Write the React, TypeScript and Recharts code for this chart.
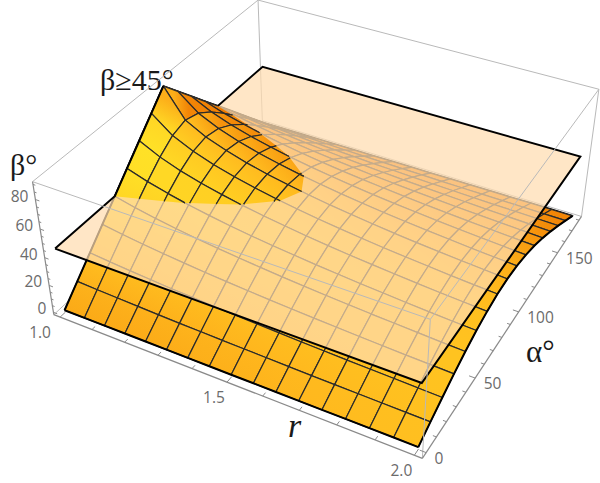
import { ScatterChart, Scatter, XAxis, YAxis } from "recharts";

const rValues = [1, 1.0625, 1.125, 1.1875, 1.25, 1.3125, 1.375, 1.4375, 1.5, 1.5625, 1.625, 1.6875, 1.75, 1.8125, 1.875, 1.9375, 2];
const alphaValues = [0, 11.25, 22.5, 33.75, 45, 56.25, 67.5, 78.75, 90, 101.25, 112.5, 123.75, 135, 146.25, 157.5, 168.75, 180];
const betaRows = [
  [0, 11.25, 22.5, 33.75, 45, 56.25, 67.5, 78.75, 90, 78.75, 67.5, 56.25, 45, 33.75, 22.5, 11.25, 0],
  [0, 10.6, 21.1, 31.5, 41.7, 51.5, 60.4, 67.4, 70.3, 67.4, 60.4, 51.5, 41.7, 31.5, 21.1, 10.6, 0],
  [0, 10.0, 19.9, 29.6, 38.9, 47.7, 55.2, 60.7, 62.7, 60.7, 55.2, 47.7, 38.9, 29.6, 19.9, 10.0, 0],
  [0, 9.5, 18.8, 27.9, 36.5, 44.4, 51.1, 55.7, 57.4, 55.7, 51.1, 44.4, 36.5, 27.9, 18.8, 9.5, 0],
  [0, 9.0, 17.8, 26.4, 34.4, 41.7, 47.7, 51.7, 53.1, 51.7, 47.7, 41.7, 34.4, 26.4, 17.8, 9.0, 0],
  [0, 8.5, 17.0, 25.0, 32.6, 39.3, 44.7, 48.4, 49.6, 48.4, 44.7, 39.3, 32.6, 25.0, 17.0, 8.5, 0],
  [0, 8.2, 16.2, 23.8, 31.0, 37.2, 42.2, 45.5, 46.7, 45.5, 42.2, 37.2, 31.0, 23.8, 16.2, 8.2, 0],
  [0, 7.8, 15.4, 22.7, 29.5, 35.3, 40.0, 43.0, 44.1, 43.0, 40.0, 35.3, 29.5, 22.7, 15.4, 7.8, 0],
  [0, 7.5, 14.8, 21.7, 28.1, 33.7, 38.0, 40.8, 41.8, 40.8, 38.0, 33.7, 28.1, 21.7, 14.8, 7.5, 0],
  [0, 7.2, 14.2, 20.8, 26.9, 32.2, 36.2, 38.9, 39.8, 38.9, 36.2, 32.2, 26.9, 20.8, 14.2, 7.2, 0],
  [0, 6.9, 13.6, 20.0, 25.8, 30.8, 34.6, 37.1, 38.0, 37.1, 34.6, 30.8, 25.8, 20.0, 13.6, 6.9, 0],
  [0, 6.6, 13.1, 19.2, 24.8, 29.5, 33.2, 35.5, 36.3, 35.5, 33.2, 29.5, 24.8, 19.2, 13.1, 6.6, 0],
  [0, 6.4, 12.6, 18.5, 23.8, 28.4, 31.9, 34.1, 34.8, 34.1, 31.9, 28.4, 23.8, 18.5, 12.6, 6.4, 0],
  [0, 6.2, 12.2, 17.8, 23.0, 27.3, 30.6, 32.8, 33.5, 32.8, 30.6, 27.3, 23.0, 17.8, 12.2, 6.2, 0],
  [0, 6.0, 11.8, 17.2, 22.2, 26.3, 29.5, 31.5, 32.2, 31.5, 29.5, 26.3, 22.2, 17.2, 11.8, 6.0, 0],
  [0, 5.8, 11.4, 16.7, 21.4, 25.4, 28.5, 30.4, 31.1, 30.4, 28.5, 25.4, 21.4, 16.7, 11.4, 5.8, 0],
  [0, 5.6, 11.0, 16.1, 20.7, 24.6, 27.5, 29.4, 30.0, 29.4, 27.5, 24.6, 20.7, 16.1, 11.0, 5.6, 0],
];
const planeBeta = 45;
const betaTicks = [0, 20, 40, 60, 80];
const betaMinor = [5, 10, 15, 25, 30, 35, 45, 50, 55, 65, 70, 75, 85, 90];
const rTicks = [1, 1.5, 2];
const rMinor = [1.1, 1.2, 1.3, 1.4, 1.6, 1.7, 1.8, 1.9];
const alphaTicks = [0, 50, 100, 150];
const alphaMinor = [10, 20, 30, 40, 60, 70, 80, 90, 110, 120, 130, 140, 160, 170, 180];

const rMin = 0.98, rMax = 2.02, aMin = -3.6, aMax = 183.6, bMin = -1.8, bMax = 91.8;

// perspective camera, fitted to the box in the picture
const camera = [307.995, 253.749, -22.66, 64.557, 87.954, -162.049, -140.278, 310.225, -0.10938, 0.20327, -0.06842];

type P3 = [number, number, number];
type P2 = { x: number; y: number };

function project([r, a, b]: P3): P2 {
  const u = r - 1, v = a / 180, w = b / 90;
  const d = camera[8] * u + camera[9] * v + camera[10] * w + 1;
  return {
    x: (camera[0] * u + camera[1] * v + camera[2] * w + camera[3]) / d,
    y: (camera[4] * u + camera[5] * v + camera[6] * w + camera[7]) / d,
  };
}

const lo = [238, 120, 0], mid = [255, 184, 30], hi = [255, 232, 40];

function shade(i: number, j: number) {
  const b = betaRows;
  const ga = (b[i][j + 1] - b[i][j] + b[i + 1][j + 1] - b[i + 1][j]) / 2 / 11.25;
  const gr = (b[i + 1][j] - b[i][j] + b[i + 1][j + 1] - b[i][j + 1]) / 2 / 0.0625;
  const avg = (b[i][j] + b[i + 1][j] + b[i][j + 1] + b[i + 1][j + 1]) / 4;
  const alpha = alphaValues[j] + 5.6;
  const u = rValues[i] - 1;
  const t = 0.34 + 0.5 * ga + 0.0012 * gr + 0.005 * avg - 0.5 * (1 - u) * Math.max(0, 1 - alpha / 65);
  return Math.max(0, Math.min(1, t));
}

function ramp(t: number) {
  const from = t < 0.5 ? lo : mid;
  const to = t < 0.5 ? mid : hi;
  const k = t < 0.5 ? t * 2 : (t - 0.5) * 2;
  const c = from.map((v, n) => Math.round(v + (to[n] - v) * k));
  return `rgb(${c[0]},${c[1]},${c[2]})`;
}

const node = (i: number, j: number): P3 => [rValues[i], alphaValues[j], betaRows[i][j]];

// keep the part of a cell above the plane, left open on the cut side
function clipCell(corners: P3[]): P3[] | null {
  const inside = corners.map((c) => c[2] >= planeBeta);
  if (inside.every(Boolean)) return [...corners, corners[0]];
  if (!inside.some(Boolean)) return null;
  const cross = (a: P3, b: P3): P3 => {
    const t = (planeBeta - a[2]) / (b[2] - a[2]);
    return [a[0] + (b[0] - a[0]) * t, a[1] + (b[1] - a[1]) * t, planeBeta];
  };
  let start = 0;
  for (let k = 0; k < 4; k++) if (!inside[k] && inside[(k + 1) % 4]) start = k;
  const pts: P3[] = [cross(corners[start], corners[(start + 1) % 4])];
  let k = (start + 1) % 4;
  while (inside[k]) {
    pts.push(corners[k]);
    const next = (k + 1) % 4;
    if (!inside[next]) {
      pts.push(cross(corners[k], corners[next]));
      break;
    }
    k = next;
  }
  return pts;
}

const nothing = () => <g />;
const meshStroke = "#2b2b2b";

function series(key: string, pts: P3[], line: any) {
  return (
    <Scatter key={key} data={pts.map(project)} dataKey="y" line={line} shape={nothing} isAnimationActive={false} legendType="none" />
  );
}

function tickText(key: string, items: { at: P3; text: string; dx: number; dy: number }[], anchor: string) {
  const data = items.map((it) => ({ ...project(it.at), text: it.text, dx: it.dx, dy: it.dy }));
  return (
    <Scatter
      key={key}
      data={data}
      dataKey="y"
      isAnimationActive={false}
      legendType="none"
      shape={(p: any) => (
        <text x={p.cx + p.payload.dx} y={p.cy + p.payload.dy} textAnchor={anchor} fontFamily="'Open Sans'" fontSize={15.5} fill="#6b6b6b">
          {p.payload.text}
        </text>
      )}
    />
  );
}

const boxLine = { stroke: "#b9b9b9", strokeWidth: 1, fill: "none" };
const axisLine = { stroke: "#8a8a8a", strokeWidth: 1.2, fill: "none" };
const tickLine = { stroke: "#8a8a8a", strokeWidth: 1, fill: "none" };
const edgeLine = { stroke: "#000", strokeWidth: 2, fill: "none" };

export default function App() {
  const cells: any[] = [];
  const above: any[] = [];
  const gradients: any[] = [];
  for (let j = 15; j >= 0; j--) {
    for (let i = 0; i < 16; i++) {
      const corners = [node(i, j), node(i + 1, j), node(i + 1, j + 1), node(i, j + 1)];
      const here = shade(i, j);
      // soft shading across the cell, from the near edge to the far edge
      const nearT = j > 0 ? (here + shade(i, j - 1)) / 2 : here;
      const farT = j < 15 ? (here + shade(i, j + 1)) / 2 : here;
      const p0 = project([(rValues[i] + rValues[i + 1]) / 2, alphaValues[j], (betaRows[i][j] + betaRows[i + 1][j]) / 2]);
      const p1 = project([(rValues[i] + rValues[i + 1]) / 2, alphaValues[j + 1], (betaRows[i][j + 1] + betaRows[i + 1][j + 1]) / 2]);
      gradients.push(
        <linearGradient key={`g${i}-${j}`} id={`g${i}-${j}`} gradientUnits="userSpaceOnUse" x1={p0.x} y1={p0.y} x2={p1.x} y2={p1.y}>
          <stop offset="0" stopColor={ramp(nearT)} />
          <stop offset="1" stopColor={ramp(farT)} />
        </linearGradient>
      );
      const fill = `url(#g${i}-${j})`;
      cells.push(series(`c${i}-${j}`, [...corners, corners[0]], { fill, stroke: meshStroke, strokeWidth: 1.2 }));
      const cut = clipCell(corners);
      if (cut) above.push(series(`a${i}-${j}`, cut, { fill, stroke: meshStroke, strokeWidth: 1.2 }));
    }
  }
  const rLine = (i: number, from: number, to: number) => alphaValues.slice(from, to + 1).map((_, k) => node(i, from + k));
  const frontEdge = rValues.map((_, i) => node(i, 0));
  const backEdge = rValues.map((_, i) => node(i, 16));

  const bTick = (b: number, len: number) => [[rMin, aMin, b], [rMin + len, aMin, b]] as P3[];
  const rTick = (r: number, len: number) => [[r, aMin, bMin], [r, aMin + len, bMin]] as P3[];
  const aTick = (a: number, len: number) => [[rMax, a, bMin], [rMax - len, a, bMin]] as P3[];

  return (
    <div style={{ position: "absolute", left: 0, top: 0, width: 600, height: 483, background: "#fff" }}>
      <ScatterChart width={600} height={483} margin={{ top: 0, right: 0, bottom: 0, left: 0 }}>
        <defs>{gradients}</defs>
        <XAxis type="number" dataKey="x" domain={[0, 600]} hide />
        <YAxis type="number" dataKey="y" domain={[0, 483]} reversed hide />
        {series("b1", [[rMin, aMax, bMin], [rMin, aMax, bMax]], boxLine)}
        {series("b2", [[rMin, aMin, bMax], [rMin, aMax, bMax], [rMax, aMax, bMax], [rMax, aMax, bMin]], boxLine)}
        {series("b3", [[rMin, aMin, bMin], [rMin, aMax, bMin], [rMax, aMax, bMin]], boxLine)}
        {series("back", backEdge, edgeLine)}
        {series("leftFar", rLine(0, 8, 16), edgeLine)}
        {cells}
        {series("front", frontEdge, edgeLine)}
        {series("right", rLine(16, 0, 16), edgeLine)}
        {series("left", rLine(0, 0, 8), edgeLine)}
        {series(
          "plane",
          [[1, 0, planeBeta], [2, 0, planeBeta], [2, 180, planeBeta], [1, 180, planeBeta], [1, 0, planeBeta]],
          { fill: "#ffddb0", fillOpacity: 0.72, stroke: "#000", strokeWidth: 2 }
        )}
        {above}
        {series("leftTop", rLine(0, 4, 8), edgeLine)}
        {series("f1", [[rMin, aMin, bMax], [rMax, aMin, bMax], [rMax, aMax, bMax]], boxLine)}
        {series("f2", [[rMax, aMin, bMax], [rMax, aMin, bMin]], boxLine)}
        {series("ax1", [[rMin, aMin, bMin], [rMin, aMin, bMax]], axisLine)}
        {series("ax2", [[rMin, aMin, bMin], [rMax, aMin, bMin]], axisLine)}
        {series("ax3", [[rMax, aMin, bMin], [rMax, aMax, bMin]], axisLine)}
        {betaTicks.map((b) => series(`bt${b}`, bTick(b, 0.012), tickLine))}
        {betaMinor.map((b) => series(`bm${b}`, bTick(b, 0.007), tickLine))}
        {rTicks.map((r) => series(`rt${r}`, rTick(r, 4), tickLine))}
        {rMinor.map((r) => series(`rm${r}`, rTick(r, 2.4), tickLine))}
        {alphaTicks.map((a) => series(`at${a}`, aTick(a, 0.016), tickLine))}
        {alphaMinor.map((a) => series(`am${a}`, aTick(a, 0.009), tickLine))}
        {tickText("tb", betaTicks.map((b) => ({ at: [rMin, aMin, b] as P3, text: String(b), dx: -7, dy: 2 })), "end")}
        {tickText("tr", rTicks.map((r) => ({ at: [r, aMin, bMin] as P3, text: r.toFixed(1), dx: r === 1 ? -20 : -13, dy: 21 })), "middle")}
        {tickText("ta", alphaTicks.map((a) => ({ at: [rMax, a, bMin] as P3, text: String(a), dx: 8.5, dy: 11 })), "start")}
        <text x={100} y={90} fontFamily="'Liberation Serif'" fontSize={30} fill="#1a1a1a">β≥45°</text>
        <text x={10} y={175} fontFamily="'Liberation Serif'" fontSize={30} fill="#1a1a1a">β°</text>
        <text x={526} y={362} fontFamily="'Liberation Serif'" fontSize={31} fill="#1a1a1a">α°</text>
        <text x={288} y={437} fontFamily="'Liberation Serif'" fontStyle="italic" fontSize={34} fill="#1a1a1a">r</text>
      </ScatterChart>
    </div>
  );
}
